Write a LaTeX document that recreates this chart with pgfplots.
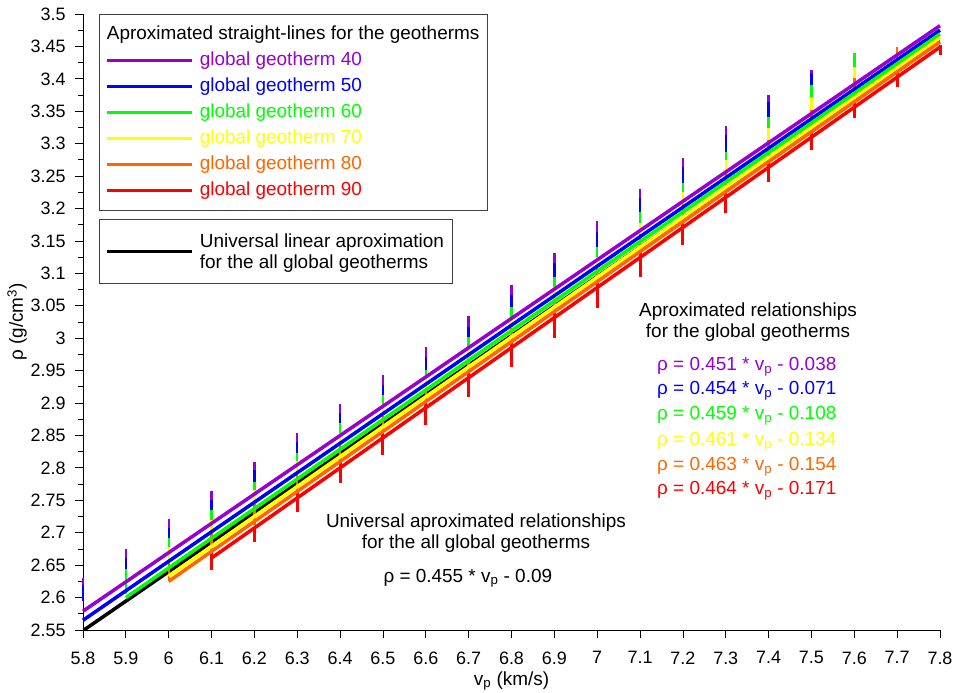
\documentclass[border=0pt]{standalone}
\usepackage{pgfplots}
\pgfplotsset{compat=1.18}
\usepackage{fontspec}
\setmainfont{Liberation Sans}
\definecolor{gpurple}{RGB}{153,0,204}
\definecolor{gblue}{RGB}{0,0,255}
\definecolor{ggreen}{RGB}{0,255,0}
\definecolor{gyellow}{RGB}{255,255,0}
\definecolor{gorange}{RGB}{255,102,0}
\definecolor{gred}{RGB}{255,0,0}
\newcommand{\fs}{\fontsize{19}{21}\selectfont}
\newcommand{\tfs}{\fontsize{18}{20}\selectfont}
\pgfplotsset{
  common/.style={scale only axis, width=857bp, height=616bp,
    xmin=5.8, xmax=7.8, ymin=2.55, ymax=3.5, enlargelimits=false,
    legend image code/.code={\draw[##1] (0bp,0bp) -- (85bp,0bp);},
    legend cell align=left},
  col/.style 2 args={#2, line width=#1, mark=none, forget plot, unbounded coords=jump, line cap=butt},
}
\begin{document}
\begin{tikzpicture}
% ---------- axis 1: frame, ticks, black line ----------
\begin{axis}[common,
  axis x line*=bottom, axis y line*=left,
  tick align=outside,
  major tick length=8bp, minor tick length=4.5bp,
  every tick/.style={line width=0.8bp, black},
  axis line style={line width=0.8bp, black},
  xtick={5.8,5.9,6,6.1,6.2,6.3,6.4,6.5,6.6,6.7,6.8,6.9,7,7.1,7.2,7.3,7.4,7.5,7.6,7.7,7.8},
  ytick={2.55,2.6,2.65,2.7,2.75,2.8,2.85,2.9,2.95,3,3.05,3.1,3.15,3.2,3.25,3.3,3.35,3.4,3.45,3.5},
  minor y tick num=1,
  /pgf/number format/assume math mode=true,
  tick label style={font=\tfs},
  yticklabel style={xshift=-6bp},
  xticklabel style={yshift=-10bp},
  scaled ticks=false,
  xlabel={v\textsubscript{p} (km/s)},
  ylabel={ρ (g/cm\textsuperscript{3})},
  every axis x label/.style={at={(axis description cs:0.5,0)}, yshift=-51bp, anchor=center, font=\fs},
  every axis y label/.style={at={(axis description cs:0,0.5)}, xshift=-66bp, rotate=90, anchor=center, font=\fs},
  legend style={at={(rel axis cs:0.0187,0.667)}, anchor=north west,
    draw=black!75, line width=0.8bp, font=\fs, cells={align=left},
    inner xsep=6bp, inner ysep=12bp, column sep=4bp},
]
\addplot[black, line width=3.5bp] coordinates {(5.8,2.549) (7.8,3.459)};
\addlegendentry{Universal linear aproximation\\for the all global geotherms}

\node[font=\fs, align=center] at (axis cs:7.352,3.025) {Aproximated relationships\\for the global geotherms};
\node[font=\fs, anchor=west, inner sep=0pt, text=gpurple] at (axis cs:7.1396,2.9556) {ρ = 0.451 * v\textsubscript{p} - 0.038};
\node[font=\fs, anchor=west, inner sep=0pt, text=gblue]   at (axis cs:7.1396,2.9186) {ρ = 0.454 * v\textsubscript{p} - 0.071};
\node[font=\fs, anchor=west, inner sep=0pt, text=ggreen]  at (axis cs:7.1396,2.8800) {ρ = 0.459 * v\textsubscript{p} - 0.108};
\node[font=\fs, anchor=west, inner sep=0pt, text=gyellow] at (axis cs:7.1396,2.8400) {ρ = 0.461 * v\textsubscript{p} - 0.134};
\node[font=\fs, anchor=west, inner sep=0pt, text=gorange] at (axis cs:7.1396,2.8014) {ρ = 0.463 * v\textsubscript{p} - 0.154};
\node[font=\fs, anchor=west, inner sep=0pt, text=gred]    at (axis cs:7.1396,2.7643) {ρ = 0.464 * v\textsubscript{p} - 0.171};
\node[font=\fs, align=center] at (axis cs:6.717,2.6996) {Universal aproximated relationships\\for the all global geotherms};
\node[font=\fs] at (axis cs:6.698,2.630) {ρ = 0.455 * v\textsubscript{p} - 0.09};
\end{axis}

% ---------- axis 2: data columns, geotherm lines, legend ----------
\begin{axis}[common, hide axis, clip=false,
  legend style={at={(rel axis cs:0.0187,1)}, anchor=north west,
    draw=black!75, line width=0.8bp, font=\fs,
    inner xsep=6bp, inner ysep=10bp, column sep=4bp, row sep=5.5bp,
    nodes={text height=14bp, text depth=4.5bp, inner ysep=1bp}},
]
% purple columns
\addplot[col={2.4bp}{gpurple}] coordinates {
(5.8,2.619) (5.8,2.630) (5.8,nan)
(5.9,2.661) (5.9,2.675) (5.9,nan)
(6.0,2.707) (6.0,2.721) (6.0,nan)
(6.1,2.750) (6.1,2.764) (6.1,nan)
(6.2,2.797) (6.2,2.809) (6.2,nan)
(6.3,2.840) (6.3,2.854) (6.3,nan)
(6.4,2.885) (6.4,2.899) (6.4,nan)
(6.5,2.928) (6.5,2.943) (6.5,nan)
(6.6,2.971) (6.6,2.986) (6.6,nan)
(6.7,3.017) (6.7,3.034) (6.7,nan)
(6.8,3.067) (6.8,3.082) (6.8,nan)
(6.9,3.116) (6.9,3.131) (6.9,nan)
(7.0,3.164) (7.0,3.180) (7.0,nan)
(7.1,3.216) (7.1,3.230) (7.1,nan)
(7.2,3.264) (7.2,3.278) (7.2,nan)
(7.3,3.313) (7.3,3.327) (7.3,nan)
(7.4,3.364) (7.4,3.375) (7.4,nan)
(7.5,3.409) (7.5,3.414)
};
% blue columns
\addplot[col={2.4bp}{gblue}] coordinates {
(5.8,2.595) (5.8,2.619) (5.8,nan)
(5.9,2.644) (5.9,2.661) (5.9,nan)
(6.0,2.692) (6.0,2.707) (6.0,nan)
(6.1,2.735) (6.1,2.750) (6.1,nan)
(6.2,2.778) (6.2,2.797) (6.2,nan)
(6.3,2.823) (6.3,2.840) (6.3,nan)
(6.4,2.869) (6.4,2.885) (6.4,nan)
(6.5,2.912) (6.5,2.928) (6.5,nan)
(6.6,2.951) (6.6,2.971) (6.6,nan)
(6.7,3.002) (6.7,3.017) (6.7,nan)
(6.8,3.048) (6.8,3.067) (6.8,nan)
(6.9,3.094) (6.9,3.116) (6.9,nan)
(7.0,3.141) (7.0,3.164) (7.0,nan)
(7.1,3.195) (7.1,3.216) (7.1,nan)
(7.2,3.239) (7.2,3.264) (7.2,nan)
(7.3,3.287) (7.3,3.313) (7.3,nan)
(7.4,3.341) (7.4,3.364) (7.4,nan)
(7.5,3.390) (7.5,3.409)
};
% green columns
\addplot[col={2.4bp}{ggreen}] coordinates {
(5.9,2.605) (5.9,2.644) (5.9,nan)
(6.0,2.678) (6.0,2.692) (6.0,nan)
(6.1,2.720) (6.1,2.735) (6.1,nan)
(6.2,2.766) (6.2,2.778) (6.2,nan)
(6.3,2.811) (6.3,2.823) (6.3,nan)
(6.4,2.854) (6.4,2.869) (6.4,nan)
(6.5,2.899) (6.5,2.912) (6.5,nan)
(6.6,2.938) (6.6,2.951) (6.6,nan)
(6.7,2.986) (6.7,3.002) (6.7,nan)
(6.8,3.033) (6.8,3.048) (6.8,nan)
(6.9,3.079) (6.9,3.094) (6.9,nan)
(7.0,3.126) (7.0,3.141) (7.0,nan)
(7.1,3.178) (7.1,3.195) (7.1,nan)
(7.2,3.225) (7.2,3.239) (7.2,nan)
(7.3,3.275) (7.3,3.287) (7.3,nan)
(7.4,3.324) (7.4,3.341) (7.4,nan)
(7.5,3.372) (7.5,3.390) (7.5,nan)
(7.6,3.418) (7.6,3.440)
};
% yellow columns
\addplot[col={2.4bp}{gyellow}] coordinates {
(6.0,2.655) (6.0,2.678) (6.0,nan)
(6.1,2.700) (6.1,2.720) (6.1,nan)
(6.2,2.745) (6.2,2.766) (6.2,nan)
(6.3,2.790) (6.3,2.811) (6.3,nan)
(6.4,2.835) (6.4,2.854) (6.4,nan)
(6.5,2.880) (6.5,2.899) (6.5,nan)
(6.6,2.920) (6.6,2.938) (6.6,nan)
(6.7,2.968) (6.7,2.986) (6.7,nan)
(6.8,3.015) (6.8,3.033) (6.8,nan)
(6.9,3.060) (6.9,3.079) (6.9,nan)
(7.0,3.108) (7.0,3.126) (7.0,nan)
(7.1,3.160) (7.1,3.178) (7.1,nan)
(7.2,3.207) (7.2,3.225) (7.2,nan)
(7.3,3.255) (7.3,3.275) (7.3,nan)
(7.4,3.306) (7.4,3.324) (7.4,nan)
(7.5,3.352) (7.5,3.372) (7.5,nan)
(7.6,3.401) (7.6,3.418)
};
% orange columns
\addplot[col={2.4bp}{gorange}] coordinates {
(6.0,2.625) (6.0,2.655) (6.0,nan)
(6.1,2.668) (6.1,2.700) (6.1,nan)
(6.2,2.712) (6.2,2.745) (6.2,nan)
(6.3,2.757) (6.3,2.790) (6.3,nan)
(6.4,2.803) (6.4,2.835) (6.4,nan)
(6.5,2.849) (6.5,2.880) (6.5,nan)
(6.6,2.895) (6.6,2.920) (6.6,nan)
(6.7,2.940) (6.7,2.968) (6.7,nan)
(6.8,2.985) (6.8,3.015) (6.8,nan)
(6.9,3.030) (6.9,3.060) (6.9,nan)
(7.0,3.078) (7.0,3.108) (7.0,nan)
(7.1,3.125) (7.1,3.160) (7.1,nan)
(7.2,3.172) (7.2,3.207) (7.2,nan)
(7.3,3.218) (7.3,3.255) (7.3,nan)
(7.4,3.265) (7.4,3.306) (7.4,nan)
(7.5,3.315) (7.5,3.352) (7.5,nan)
(7.6,3.360) (7.6,3.401) (7.6,nan)
(7.7,3.405) (7.7,3.449)
};
% red bars
\addplot[col={3bp}{gred}] coordinates {
(6.1,2.643) (6.1,2.671) (6.1,nan)
(6.2,2.686) (6.2,2.709) (6.2,nan)
(6.3,2.732) (6.3,2.763) (6.3,nan)
(6.4,2.777) (6.4,2.809) (6.4,nan)
(6.5,2.820) (6.5,2.854) (6.5,nan)
(6.6,2.866) (6.6,2.900) (6.6,nan)
(6.7,2.909) (6.7,2.948) (6.7,nan)
(6.8,2.956) (6.8,2.997) (6.8,nan)
(6.9,3.000) (6.9,3.040) (6.9,nan)
(7.0,3.047) (7.0,3.085) (7.0,nan)
(7.1,3.094) (7.1,3.133) (7.1,nan)
(7.2,3.144) (7.2,3.187) (7.2,nan)
(7.3,3.193) (7.3,3.232) (7.3,nan)
(7.4,3.241) (7.4,3.275) (7.4,nan)
(7.5,3.290) (7.5,3.316) (7.5,nan)
(7.6,3.340) (7.6,3.364) (7.6,nan)
(7.7,3.387) (7.7,3.414) (7.7,nan)
(7.8,3.437) (7.8,3.452)
};

\addlegendimage{empty legend}
\addlegendentry{\hspace*{-93bp}Aproximated straight-lines for the geotherms}
\addplot[gpurple, line width=3.5bp] coordinates {(5.8,2.579) (7.8,3.482)};
\addlegendentry[text=gpurple, font=\fs]{global geotherm 40}
\addplot[gblue, line width=3.5bp] coordinates {(5.8,2.565) (7.8,3.475)};
\addlegendentry[text=gblue, font=\fs]{global geotherm 50}
\addplot[ggreen, line width=3.5bp] coordinates {(5.9,2.600) (7.8,3.469)};
\addlegendentry[text=ggreen, font=\fs]{global geotherm 60}
\addplot[gyellow, line width=3.5bp] coordinates {(6.0,2.633) (7.8,3.463)};
\addlegendentry[text=gyellow, font=\fs]{global geotherm 70}
\addplot[gorange, line width=3.5bp] coordinates {(6.0,2.625) (7.8,3.457)};
\addlegendentry[text=gorange, font=\fs]{global geotherm 80}
\addplot[gred, line width=3.5bp] coordinates {(6.1,2.661) (7.8,3.449)};
\addlegendentry[text=gred, font=\fs]{global geotherm 90}
\end{axis}
\pgfresetboundingbox
\useasboundingbox (-83bp,-63bp) rectangle (874bp,630bp);
\end{tikzpicture}
\end{document}
